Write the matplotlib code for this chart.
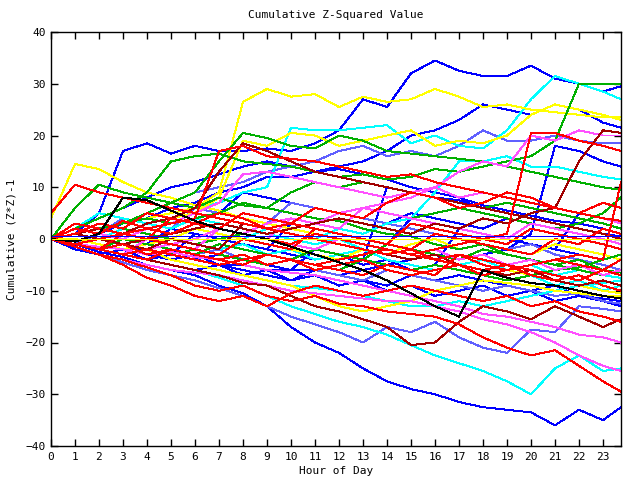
import matplotlib
matplotlib.use("Agg")
import matplotlib.pyplot as plt

plt.rcParams["font.family"] = "DejaVu Sans Mono"

# hours of the day (hourly samples, last one at 23:45)
hours = list(range(24)) + [23.75]

# series, grouped by colour
blue_1 = [0, 1, 5, 17, 18.5, 16.5, 18, 17, 17, 17.5, 17, 18.5, 21, 27, 25.5, 32, 34.5, 32.5, 31.5, 31.5, 33.5, 31, 30, 28.5, 29.5]
blue_2 = [0, -1, -2.5, -3.5, -5, -6, -7, -9, -10.5, -13, -17, -20, -22, -25, -27.5, -29, -30, -31.5, -32.5, -33, -33.5, -36, -33, -35, -32.5]
blue_3 = [0, 1, 2, 3, 4, 6, 7, 9, 10, 12, 12, 13, 14, 15, 17, 20, 21, 23, 26, 25, 24, 26, 25, 22.5, 21.5]
blue_4 = [0, 2, 4, 6, 8, 10, 11, 12.5, 14, 15, 14, 13, 13.5, 12.5, 11.5, 10, 9, 8, 6.5, 5.5, 4.5, 3.5, 3, 2, 1]
blue_5 = [0, -1, -2, -3, -4, -3, -4, -5, -5, -6, -6, -2, -3, -4, 10, 9, 8, 7.5, 6, 5, 4, 3, 2, 1, 0.5]
blue_6 = [0, 0, -1, -2, -2, -3, -4, -3, -4, -5, -6, -6, -7, -6, -5, -4, -3, -4, -3, -2, 1, 18, 17, 15, 14]
blue_7 = [0, -1, -2, -1, -3, -4, -3, -5, -6, -7, -8, -6, -7, -8, -9, -7, -8, -7, -8, -9, -10, -9, -11, -11.5, -12]
blue_8 = [0, 2, 1, 3, 5, 4, 6, 5, 9, 8, 7, 6, 5, 4, 3, 5, 4, 3, 2, 4, 3, 2, 1, 0, -1]
blue_9 = [0, -1, 1, 0, -1, 2, 1, 0, -1, -2, 3, 2, 1, 0, -1, 4, 3, 2, 1, 0, -1, -2, 5, 4, 3]
blue_10 = [0, 1, 0, -1, -2, -3, 1, 0, -1, -2, -3, -4, -3, -5, -4, -6, -5, 2, 1, 0, -1, -2, -3, -4, -3]
blue_11 = [0, -2, -3, -2, -4, -5, -6, -5, -7, -6, -8, -7, -9, -8, -10, -9, -11, -10, -9, -11, -10, -12, -11, -12, -13]
blue_flat = [0.6] * 25

peri_1 = [0, -1.5, -3, -4.5, -6, -7, -8, -9.5, -11, -13, -15, -16.5, -18, -20, -17, -18, -16, -19, -21, -22, -17.5, -18, -13, -13.5, -14]
peri_2 = [0, 1, 2, 3, 5, 7, 9, 10, 11, 13, 14, 15, 17, 18, 16, 17, 16, 18, 21, 19, 19, 20, 19, 18.5, 18.5]
peri_3 = [0, -1, 1, 0, -1, -2, -3, -2, -4, -5, -4, -6, -7, -8, -6, -7, -8, -9, -10, -9, -10, -11, -10.5, -12, -12.5]
peri_4 = [0, 2, 1, 4, 3, 2, 6, 5, 4, 3, 7, 6, 5, 4, 3, 2, 1, 0, -1, -2, -1, -3, -4, -5, -6]

cyan_1 = [0, -1, -2, -3, -4, -5, -6, -7.5, -9, -11, -13, -14.5, -16, -17, -18.5, -20.5, -22.5, -24, -25.5, -27.5, -30, -25, -22.5, -25.5, -25]
cyan_2 = [0, 1, 2, 3, 4, 5, 6, 7, 9, 10, 21.5, 21, 21, 21.5, 22, 18.5, 20, 18, 17.5, 21, 27, 31.5, 30, 28.5, 27]
cyan_3 = [0, 1, 0, -1, 0, 1, 2, 1, 0, 2, 1, 0, 2, 1, 3, 4, 9, 15, 15, 16, 14, 14, 13, 12, 11.5]
cyan_4 = [0, -1, -2, -3, -2, -4, -5, -6, -7, -8, -9, -9.5, -10, -11, -12, -13, -13, -12, -13, -12, -11, -10, -9, -8.5, -8]
cyan_5 = [0, 2, 5, 4, 3, 2, 4, 3, 2, 1, 0, -1, 0, -2, -3, -4, -3, -5, -4, -6, -5, -7, -6, -7, -7.5]
cyan_6 = [0, -1, 0, 2, 1, 0, -1, -2, -1, -3, -2, -4, -3, -2, -4, -5, -6, -5, -7, -8, -7, -9, -8, -10, -9]

yellow_1 = [4, 14.5, 13.5, 11, 9, 8, 6.5, 5.5, 4, 3, 2, 1, 0, -1, -2, -3, -4, -3, -5, -6, -7, -8, -9, -10, -10.5]
yellow_2 = [0, 1, 2, 3, 4, 5, 6, 9, 26.5, 29, 27.5, 28, 25.5, 27.5, 26.5, 27, 29, 27.5, 25.5, 26, 25, 24.5, 24, 23.5, 23.5]
yellow_3 = [0, 1, 2, 1, 3, 4, 5, 8, 19, 18, 20.5, 20, 18, 19, 20, 21, 18, 19, 18.5, 20, 24, 26, 25, 24, 23]
yellow_4 = [0, -1, -2, -3, -2, -4, -5, -6, -7, -8, -9, -11, -13, -14, -13, -12, -10, -9, -8, -8.5, -9, -10, -10.5, -11, -11]
yellow_5 = [0, 0, -1, -2, -1, 0, 2, 1, 0, -1, -2, -3, -4, -2, -3, -1, 0, -2, -1, -2, -3, -1, -2, -3, -4]
yellow_flat = [0] * 25

green_1 = [0, 1, 2, 3, 5, 7, 9, 15, 20.5, 19.5, 18, 17.5, 20, 19, 17, 16.5, 16, 15.5, 15, 14, 13, 12, 11, 10, 9.5]
green_2 = [0, 2, 4, 6, 9, 15, 16, 16.5, 15, 14.5, 14, 13, 12, 12.5, 11.5, 12, 13.5, 13, 14, 15, 16, 19, 30, 30, 30]
green_3 = [0, 6, 10.5, 9, 8, 7, 6, 8, 6.5, 6, 5, 4, 3.5, 2, 1, 0.5, -1, -2, -1, -3, -4, -5, -4, -6, -6.5]
green_4 = [0, -1, 0, -1, -2, -3, -2, -3, -4, -5, -4, -5, -6, -4, -5, -6, -5, -6, -7, -8, -7, -6, -5.5, -4, -3]
green_5 = [0, 1, 3, 2, 1, 0, -1, 0, 1, 3, 4, 3, 5, 6, 5, 4, 5, 6, 5, 4, 3, 2, 3, 5, 8]
green_6 = [0, 1, 2, 3, 4, 3, 4, 5, 7, 6, 9, 11, 10, 11, 10, 9, 8, 7, 6, 7, 6, 5, 4, 3, 2]
green_7 = [0, -1, -2, 0, -1, -2, -3, -1, -2, -3, -4, -2, -3, -4, -1, -2, -3, -4, -2, -3, -4, -5, -6, -7, -6]

red_1 = [5, 10.5, 9, 8, 7, 6, 5, 4, 3, 2, 1, 0, -1, -2, -3, -2, -4, -5, -6, -5, -7, -8, -7, -9, -10]
red_2 = [0, -1, 0, 1, 2, 3, 4, 17, 18, 16, 15.5, 15, 14, 13, 12, 12.5, 11, 10, 9, 8, 7, 6, 5, 4, 3.5]
red_3 = [0, -1, -2, -3, -2, -3, -4, -5, -4, -3, -4, -5, -4, -3, -2, -3, -2, -1, 0, 1, 20.5, 20.5, 19, 18, 17]
red_4 = [0, -1.5, -3, -4, -5.5, -7, -9, -10, -9, -11, -12, -11, -12.5, -13, -14, -14.5, -15, -16.5, -19, -21, -22.5, -21.5, -24.5, -27.5, -29.5]
red_5 = [0, -1.5, -3, -5, -7.5, -9, -11, -12, -11, -13, -10.5, -9, -10, -11, -10, -9, -10, -11, -12, -11, -13, -12, -14, -15, -16]
red_6 = [0, 2, 1, 3.5, 2, 1, 3, 5, 4, 2, 3, 6, 5, 4, 7, 9, 8, 6, 7, 9, 8, 6, 5, 7, 6]
red_7 = [0, -1, -2, 1, 0, -1, -2, -3, 0, -1, -2, 2, 1, 0, -1, -2, 1, 0, -1, -2, -3, 0, -1, 2, 1]
red_8 = [0, 1, 3, 2, 5, 4, 3, 2, 1, 0, -1, 1, 0, -1, -2, -3, -4, -3, -5, -6, -5, -4, -5, -6, -4]
red_9 = [0, -1, -2, -1, -3, -2, -3, -4, -3, -5, -4, -6, -5, -4, -6, -7, -6, -5, -7, -6, -5, -4, -3, -4, 11]
red_10 = [0, 3, 2, 1, 0, 4, 3, 2, 5, 4, 3, 2, 1, 0, -1, 3, 2, 1, 0, -1, 2, 1, 0, -1, -2]
red_11 = [0, -1, -2, -3, -4, -2, -3, -4, -5, -3, -4, -5, -6, -7, -5, -6, -7, -3, -4, -5, -6, -7, -8, -6, -7]

dkred_1 = [0, 1, 0, -1, 0, 1, 2, 3, 2, 1, 2, 3, 4, 3, 2, 1, 3, 2, 4, 3, 5, 6, 15, 21, 20.5]
dkred_2 = [0, -1, -2, -3, -4, -5, -6, -7, -8.5, -9, -11, -13, -14, -15.5, -17, -20.5, -20, -16, -13, -14, -15.5, -13, -15, -17, -15.5]
dkred_3 = [0, 1, 0, -1, -2, 0, -1, -2, 3, 2, 1, 0, -1, -2, -3, -4, -3, -5, -6, -7, -6, -8, -9, -8, -9]
dkred_4 = [0, 1, 2, 1, 3, 4, 6, 13, 18.5, 17, 15, 13, 12, 11, 10, 9, 8, 7, 6, 5, 4, 3, 2, 1, 0]

mag_1 = [0, -1.5, -3, -4, -5, -6, -6.5, -7, -8, -9, -10, -10.5, -11, -11.5, -12, -12, -13, -14, -15.5, -16.5, -18, -20, -22.5, -24.5, -25.5]
mag_2 = [0, 1, 0, -1, -2, -1, 0, 2, 1, 3, 4, 3, 5, 6, 7, 8, 10, 13, 15, 14, 20, 19, 21, 20, 20]
mag_3 = [0, -1, 0, 1, 2, 3, 5, 7, 12.5, 13, 12, 11, 10, 9, 8, 9, 10, 8, 9, 8, 7, 6, 5, 4, 3]
mag_4 = [0, -1, -1.5, -2, -3, -2.5, -3.5, -4, -5, -6, -6.5, -7, -8, -9, -10, -11, -12, -13, -14.5, -15, -16, -17, -18.5, -19, -20]
mag_5 = [0, 2, 1, 0, 2, 1, 3, 2, 1, 0, -1, -2, 0, -1, -2, -3, -2, -4, -3, -5, -4, -6, -5, -7, -6]
mag_6 = [0, -1, -2, -3, 0, -1, -2, 2, 1, 0, 4, 3, 2, 6, 5, 4, 3, 2, 1, 0, 3, 2, 1, 0, -1]

black_1 = [0, -0.5, 1, 8, 7.5, 5.5, 3.5, 2, 1, 0, -1.5, -3, -4.5, -6, -8, -10.5, -13, -15, -6, -7.5, -8.5, -9, -10, -11, -11.5]

series = [
    (blue_1, "#0000ff"), (blue_2, "#0000ff"), (blue_3, "#0000ff"), (blue_4, "#0000ff"),
    (blue_5, "#0000ff"), (blue_6, "#0000ff"), (blue_7, "#0000ff"), (blue_8, "#0000ff"),
    (blue_9, "#0000ff"), (blue_10, "#0000ff"), (blue_11, "#0000ff"),
    (peri_1, "#6060ff"), (peri_2, "#6060ff"), (peri_3, "#6060ff"), (peri_4, "#6060ff"),
    (cyan_1, "#00ffff"), (cyan_2, "#00ffff"), (cyan_3, "#00ffff"), (cyan_4, "#00ffff"),
    (cyan_5, "#00ffff"), (cyan_6, "#00ffff"),
    (yellow_1, "#ffff00"), (yellow_2, "#ffff00"), (yellow_3, "#ffff00"), (yellow_4, "#ffff00"), (yellow_5, "#ffff00"),
    (green_1, "#00b000"), (green_2, "#00b000"), (green_3, "#00b000"), (green_4, "#00b000"),
    (green_5, "#00b000"), (green_6, "#00b000"), (green_7, "#00b000"),
    (mag_1, "#ff50ff"), (mag_2, "#ff50ff"), (mag_3, "#ff50ff"), (mag_4, "#ff50ff"),
    (mag_5, "#ff50ff"), (mag_6, "#ff50ff"),
    (dkred_1, "#a00000"), (dkred_2, "#a00000"), (dkred_3, "#a00000"), (dkred_4, "#a00000"),
    (red_1, "#ff0000"), (red_2, "#ff0000"), (red_3, "#ff0000"), (red_4, "#ff0000"), (red_5, "#ff0000"),
    (red_6, "#ff0000"), (red_7, "#ff0000"), (red_8, "#ff0000"), (red_9, "#ff0000"),
    (red_10, "#ff0000"), (red_11, "#ff0000"),
    (black_1, "#000000"),
    (yellow_flat, "#ffff00"), (blue_flat, "#0000ff"),
]

fig = plt.figure(figsize=(6.4, 4.8), dpi=100)
ax = fig.add_axes([51 / 640, 34 / 480, 570 / 640, 414 / 480])

for vals, col in series:
    ax.plot(hours, vals, color=col, linewidth=0.7, antialiased=False)

ax.set_xlim(0, 23.75)
ax.set_ylim(-40, 40)
ax.set_xticks(range(24))
ax.set_yticks(range(-40, 41, 10))
ax.tick_params(direction="in", length=5, width=1, top=True, right=True,
               labelsize=8, pad=4)
for sp in ax.spines.values():
    sp.set_linewidth(1)

ax.set_title("Cumulative Z-Squared Value", fontsize=8, pad=10)
ax.set_xlabel("Hour of Day", fontsize=8, labelpad=3)
ax.set_ylabel("Cumulative (Z*Z)-1", fontsize=8, labelpad=6)

fig.savefig("out.png", dpi=100)
